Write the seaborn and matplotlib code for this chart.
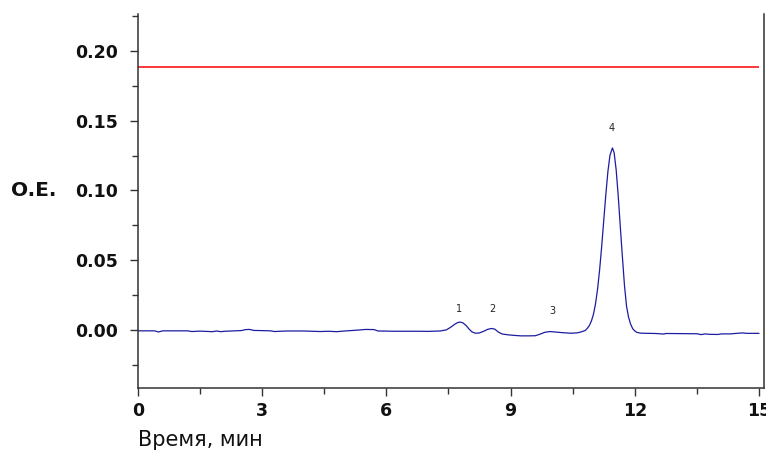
import matplotlib
matplotlib.use("Agg")
import matplotlib.pyplot as plt
from matplotlib.ticker import MultipleLocator, FormatStrFormatter
import seaborn as sns
import pandas as pd

# Хроматограмма: время (мин) и оптическая плотность (О.Е.)
time_min = [
    0.0, 0.4, 0.5, 0.6, 1.2, 1.3, 1.5, 1.8, 1.9, 2.0, 2.1, 2.5, 2.6, 2.7, 2.8,
    3.2, 3.3, 3.6, 4.0, 4.4, 4.6, 4.8, 5.0, 5.3, 5.5, 5.7, 5.8, 6.2, 6.8, 7.0,
    7.2, 7.3, 7.45, 7.55, 7.65, 7.72, 7.78, 7.85, 7.93, 8.0, 8.07, 8.15, 8.25,
    8.35, 8.45, 8.54, 8.62, 8.7, 8.8, 8.95, 9.1, 9.25, 9.45, 9.6, 9.72, 9.82,
    9.95, 10.1, 10.25, 10.45, 10.6, 10.7, 10.8, 10.85, 10.9, 10.95, 11.0, 11.05,
    11.1, 11.15, 11.2, 11.25, 11.3, 11.35, 11.4, 11.46, 11.5, 11.55, 11.6,
    11.65, 11.7, 11.75, 11.8, 11.85, 11.9, 11.95, 12.0, 12.05, 12.15, 12.5,
    12.7, 12.75, 13.5, 13.6, 13.7, 13.8, 14.0, 14.1, 14.3, 14.5, 14.6, 14.7,
    15.0,
]
absorbance = [
    -0.0007, -0.0007, -0.0015, -0.0007, -0.0007, -0.0012, -0.0009, -0.0013,
    -0.0008, -0.0013, -0.0010, -0.0005, 0.0002, 0.0003, -0.0004,
    -0.0007, -0.0012, -0.0008, -0.0008, -0.0012, -0.0010, -0.0013, -0.0008,
    -0.0002, 0.0003, 0.0002, -0.0008, -0.0010, -0.0010, -0.0011,
    -0.0009, -0.0008, 0.0000, 0.0018, 0.0040, 0.0052, 0.0056, 0.0050, 0.0030,
    0.0005, -0.0015, -0.0024, -0.0022,
    -0.0010, 0.0004, 0.0010, 0.0005, -0.0015, -0.0030, -0.0036, -0.0040,
    -0.0043, -0.0043, -0.0042, -0.0030, -0.0018,
    -0.0012, -0.0016, -0.0020, -0.0024, -0.0022, -0.0015, -0.0005, 0.0010,
    0.0030, 0.0062, 0.0110, 0.0185,
    0.0290, 0.0430, 0.0598, 0.0785, 0.0970, 0.1135, 0.1252, 0.1305, 0.1272,
    0.1148, 0.0958,
    0.0738, 0.0525, 0.0320, 0.0170, 0.0090, 0.0040, 0.0008, -0.0008, -0.0018,
    -0.0024, -0.0026,
    -0.0030, -0.0026, -0.0028, -0.0034, -0.0029, -0.0032, -0.0033, -0.0029,
    -0.0029, -0.0024, -0.0022, -0.0025,
    -0.0025,
]

# Номера пиков и положения подписей
peak_labels = ["1", "2", "3", "4"]
peak_time = [7.76, 8.55, 10.02, 11.45]
peak_label_y = [0.0150, 0.0150, 0.0137, 0.1445]

# Красная линия (порог)
limit_level = 0.1885
limit_start, limit_end = 0.0, 15.0

df = pd.DataFrame({"t": time_min, "A": absorbance})

sns.set_style("ticks")
plt.rcParams["font.family"] = ["DejaVu Sans"]

fig = plt.figure(figsize=(7.66, 4.57), dpi=100)
ax = fig.add_axes([0.180, 0.151, 0.8174, 0.8184])

sns.lineplot(data=df, x="t", y="A", ax=ax, color="#1c1ca0", linewidth=0.9,
             estimator=None, sort=False)
ax.hlines(limit_level, limit_start, limit_end, color="#ff0000", linewidth=1.1)

for lab, tx, ty in zip(peak_labels, peak_time, peak_label_y):
    ax.text(tx, ty, lab, ha="center", va="center", fontsize=7, color="#222222")

ax.set_xlim(0, 15.12)
ax.set_ylim(-0.0417, 0.2266)

ax.xaxis.set_major_locator(MultipleLocator(3))
ax.xaxis.set_minor_locator(MultipleLocator(1.5))
ax.yaxis.set_major_locator(MultipleLocator(0.05))
ax.yaxis.set_minor_locator(MultipleLocator(0.025))
ax.yaxis.set_major_formatter(FormatStrFormatter("%.2f"))

ax.tick_params(axis="both", which="major", length=6, width=1, color="#333333",
               labelsize=12.5, labelcolor="#111111")
ax.tick_params(axis="both", which="minor", length=4, width=1, color="#333333")
ax.tick_params(axis="y", which="major", pad=8)
ax.tick_params(axis="x", which="major", pad=4)
for lbl in ax.get_xticklabels() + ax.get_yticklabels():
    lbl.set_fontweight("bold")

for side in ["left", "bottom", "right"]:
    ax.spines[side].set_color("#333333")
    ax.spines[side].set_linewidth(1.1)
ax.spines["top"].set_visible(False)

ax.set_xlabel("Время, мин", fontsize=15, ha="left", va="center",
              color="#111111")
ax.xaxis.set_label_coords(0.0, -0.139)
ax.set_ylabel("O.E.", fontsize=14.5, rotation=0, ha="center", va="center",
              fontweight="bold", color="#111111")
ax.yaxis.set_label_coords(-0.166, 0.527)

fig.savefig("out.png", dpi=100)
